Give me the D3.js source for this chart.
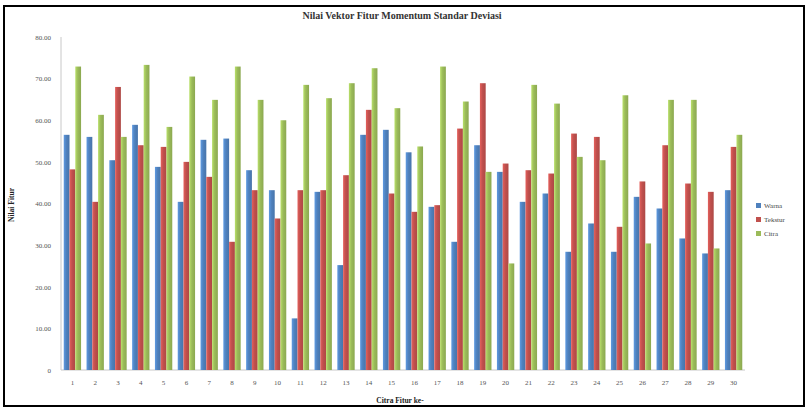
<!DOCTYPE html>
<html>
<head>
<meta charset="utf-8">
<script src="https://cdn.jsdelivr.net/npm/d3@7/dist/d3.min.js"></script>
<style>
  html, body { margin: 0; padding: 0; background: #fff; }
  svg { display: block; }
</style>
</head>
<body>
<svg id="chart" width="807" height="409"></svg>
<script>
// Image indices 1..30
const categories = d3.range(1, 31).map(String);

// Three feature series per image
const seriesNames = ["Warna", "Tekstur", "Citra"];
const seriesColors = ["#4F81BD", "#C0504D", "#9BBB59"];

const valuesA = [56.5, 56.0, 50.4, 58.9, 48.8, 40.4, 55.3, 55.6, 48.0, 43.2,
                 12.4, 42.8, 25.2, 56.5, 57.7, 52.3, 39.2, 30.8, 54.0, 47.6,
                 40.4, 42.4, 28.4, 35.2, 28.4, 41.6, 38.8, 31.6, 28.0, 43.2];
const valuesB = [48.2, 40.4, 68.0, 54.0, 53.6, 50.0, 46.4, 30.8, 43.2, 36.4,
                 43.2, 43.2, 46.8, 62.5, 42.4, 38.0, 39.6, 58.0, 68.9, 49.6,
                 48.0, 47.2, 56.8, 56.0, 34.4, 45.3, 54.0, 44.8, 42.8, 53.6];
const valuesC = [72.9, 61.3, 56.0, 73.3, 58.4, 70.5, 64.9, 72.9, 64.9, 60.0,
                 68.5, 65.3, 68.9, 72.5, 62.9, 53.7, 72.9, 64.5, 47.6, 25.6,
                 68.5, 64.0, 51.2, 50.4, 66.0, 30.4, 64.9, 64.9, 29.2, 56.5];

const yTicks = [0, 10, 20, 30, 40, 50, 60, 70, 80];
const yTickLabels = ["0", "10.00", "20.00", "30.00", "40.00", "50.00", "60.00", "70.00", "80.00"];

const titleText = "Nilai Vektor Fitur Momentum Standar Deviasi";
const xTitle = "Citra Fitur ke-";
const yTitle = "Nilai Fitur";

const svg = d3.select("#chart");
const W = 807, H = 409;

// outer frame
svg.append("rect").attr("x", 4).attr("y", 6).attr("width", 800).attr("height", 400)
  .attr("fill", "#fff").attr("stroke", "#000").attr("stroke-width", 2);

const plot = { left: 61, right: 745, top: 37, bottom: 370 };

const x0 = d3.scaleBand().domain(categories).range([plot.left, plot.right]).paddingInner(0.24).paddingOuter(0.12);
const x1 = d3.scaleBand().domain(d3.range(3)).range([0, x0.bandwidth()]);
const y = d3.scaleLinear().domain([0, 80]).range([plot.bottom, plot.top]);

// gradients giving the bars a soft shaded look
const defs = svg.append("defs");
seriesColors.forEach((c, i) => {
  const g = defs.append("linearGradient").attr("id", "g" + i)
    .attr("x1", "0").attr("x2", "1").attr("y1", "0").attr("y2", "0");
  const base = d3.color(c);
  g.append("stop").attr("offset", "0%").attr("stop-color", base.brighter(0.5));
  g.append("stop").attr("offset", "45%").attr("stop-color", base);
  g.append("stop").attr("offset", "100%").attr("stop-color", base.darker(0.3));
});

// left axis line
svg.append("line").attr("x1", plot.left).attr("x2", plot.left)
  .attr("y1", plot.top).attr("y2", plot.bottom).attr("stroke", "#c8c8c8");
svg.append("line").attr("x1", plot.left).attr("x2", plot.right)
  .attr("y1", plot.bottom).attr("y2", plot.bottom).attr("stroke", "#c8c8c8");

// y axis
const yAxis = d3.axisLeft(y).tickValues(yTicks)
  .tickFormat((d, i) => yTickLabels[i]).tickSize(0).tickPadding(10);
const yg = svg.append("g").attr("transform", `translate(${plot.left},0)`).call(yAxis);
yg.select(".domain").remove();
yg.selectAll("text").attr("font-family", "Liberation Serif, serif").attr("font-size", 7).attr("fill", "#555");

// x axis
const xAxis = d3.axisBottom(x0).tickSize(0).tickPadding(10);
const xg = svg.append("g").attr("transform", `translate(0,${plot.bottom})`).call(xAxis);
xg.select(".domain").remove();
xg.selectAll("text").attr("font-family", "Liberation Serif, serif").attr("font-size", 7).attr("fill", "#555");

// bars
const series = [valuesA, valuesB, valuesC];
const groups = svg.append("g").selectAll("g").data(categories).join("g")
  .attr("transform", d => `translate(${x0(d)},0)`);
groups.selectAll("rect")
  .data((d, i) => series.map((s, k) => ({ k, v: s[i] })))
  .join("rect")
  .attr("x", d => x1(d.k))
  .attr("width", x1.bandwidth())
  .attr("y", d => y(d.v))
  .attr("height", d => y(0) - y(d.v))
  .attr("fill", d => `url(#g${d.k})`);

// title
svg.append("text").attr("x", 402).attr("y", 19).attr("text-anchor", "middle")
  .attr("font-family", "Liberation Serif, serif").attr("font-size", 10).attr("font-weight", "bold")
  .attr("fill", "#333").text(titleText);

// axis titles
svg.append("text").attr("x", 400).attr("y", 403).attr("text-anchor", "middle")
  .attr("font-family", "Liberation Serif, serif").attr("font-size", 7.5).attr("font-weight", "bold")
  .attr("fill", "#222").text(xTitle);
svg.append("text").attr("transform", "translate(14,205) rotate(-90)").attr("text-anchor", "middle")
  .attr("font-family", "Liberation Serif, serif").attr("font-size", 7.5).attr("font-weight", "bold")
  .attr("fill", "#222").text(yTitle);

// legend
const lg = svg.append("g").attr("transform", "translate(756,206)");
const items = lg.selectAll("g").data(seriesNames).join("g")
  .attr("transform", (d, i) => `translate(0,${i * 14})`);
items.append("rect").attr("x", 0).attr("y", -3).attr("width", 5).attr("height", 5)
  .attr("fill", (d, i) => seriesColors[i]);
items.append("text").attr("x", 8).attr("y", 2)
  .attr("font-family", "Liberation Serif, serif").attr("font-size", 7).attr("fill", "#444")
  .text(d => d);
</script>
</body>
</html>
